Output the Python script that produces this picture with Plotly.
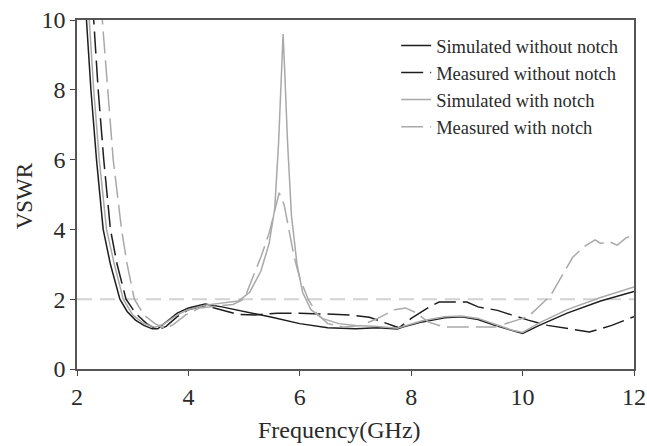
import plotly.graph_objects as go

# ---- data ----
f_sim_wo = [2.15, 2.25, 2.35, 2.47, 2.6, 2.77, 2.9, 3.05, 3.2, 3.35, 3.45, 3.6, 3.8, 4.0, 4.3, 4.6,
            5.0, 5.5, 6.0, 6.5, 7.0, 7.4, 7.75, 7.85, 8.2, 8.6, 8.9, 9.2, 9.5, 9.8, 10.0, 10.3,
            10.8, 11.4, 12.0]
v_sim_wo = [10.5, 8.0, 6.0, 4.0, 3.0, 2.0, 1.65, 1.4, 1.25, 1.15, 1.15, 1.35, 1.6, 1.75, 1.86, 1.78,
            1.65, 1.48, 1.3, 1.18, 1.15, 1.18, 1.15, 1.2, 1.35, 1.47, 1.5, 1.42, 1.25, 1.1, 1.02, 1.25,
            1.6, 1.95, 2.22]

f_meas_wo = [2.28, 2.38, 2.48, 2.6, 2.72, 2.88, 3.05, 3.25, 3.45, 3.6, 3.8, 4.0, 4.3, 4.6, 4.9,
             5.2, 5.6, 6.0, 6.5, 6.9, 7.25, 7.55, 7.78, 8.0, 8.35, 8.5, 9.0, 9.2, 9.55, 9.8, 10.1,
             10.45, 10.95, 11.2, 11.6, 12.0]
v_meas_wo = [10.5, 8.0, 6.0, 4.0, 3.0, 2.0, 1.6, 1.3, 1.12, 1.22, 1.5, 1.7, 1.82, 1.7, 1.56,
             1.55, 1.6, 1.6, 1.58, 1.55, 1.48, 1.3, 1.18, 1.45, 1.8, 1.92, 1.92, 1.78, 1.68, 1.55, 1.4,
             1.25, 1.12, 1.06, 1.25, 1.5]

f_sim_w = [2.2, 2.3, 2.4, 2.53, 2.67, 2.83, 3.0, 3.2, 3.4, 3.55, 3.8, 4.0, 4.3, 4.6, 4.9, 5.1,
           5.3, 5.45, 5.55, 5.62, 5.67, 5.70, 5.73, 5.78, 5.85, 5.95, 6.05, 6.2, 6.4, 6.7, 7.0,
           7.4, 7.75, 7.85, 8.2, 8.6, 8.9, 9.2, 9.5, 9.8, 10.0, 10.3, 10.8, 11.4, 12.0]
v_sim_w = [10.5, 8.0, 6.0, 4.0, 3.0, 2.0, 1.55, 1.3, 1.2, 1.28, 1.55, 1.7, 1.83, 1.88, 1.95, 2.2,
           2.8, 3.6, 4.6, 6.5, 8.5, 9.6, 8.5, 6.5, 4.4, 3.0, 2.2, 1.7, 1.45, 1.3, 1.25,
           1.22, 1.17, 1.22, 1.38, 1.5, 1.52, 1.45, 1.28, 1.12, 1.05, 1.32, 1.7, 2.05, 2.35]

f_meas_w = [2.43, 2.55, 2.65, 2.8, 2.9, 3.03, 3.2, 3.4, 3.6, 3.75, 3.95, 4.2, 4.5, 4.8, 5.0,
            5.15, 5.3, 5.45, 5.55, 5.63, 5.72, 5.8, 5.9, 6.0, 6.15, 6.3, 6.5, 6.8, 7.1, 7.4, 7.7,
            7.9, 8.1, 8.3, 8.6, 9.0, 9.5, 9.9, 10.1, 10.5, 10.9, 11.1, 11.3, 11.4, 11.55, 11.7,
            11.85, 12.0]
v_meas_w = [10.5, 8.0, 6.0, 4.0, 3.0, 2.0, 1.55, 1.3, 1.15, 1.3, 1.55, 1.75, 1.8, 1.85, 2.0,
            2.6, 3.2, 3.9, 4.5, 5.05, 4.7, 4.0, 3.2, 2.6, 2.0, 1.6, 1.3, 1.2, 1.25, 1.45, 1.7,
            1.75, 1.6, 1.35, 1.2, 1.2, 1.2, 1.4, 1.5, 2.1, 3.2, 3.5, 3.7, 3.6, 3.65, 3.55,
            3.75, 3.85]

threshold_x = [2, 12]
threshold_y = [2, 2]

x_ticks = [2, 4, 6, 8, 10, 12]
y_ticks = [0, 2, 4, 6, 8, 10]

BLACK = "#1e1e1e"
GRAY = "#a9a9a9"
SERIF = "Liberation Serif, Times New Roman, serif"

fig = go.Figure()
fig.add_trace(go.Scatter(x=threshold_x, y=threshold_y, mode="lines", showlegend=False,
                         line=dict(color="#d2d2d2", width=2, dash="15px,8px"), hoverinfo="skip"))
fig.add_trace(go.Scatter(x=f_sim_wo, y=v_sim_wo, mode="lines", name="Simulated without notch",
                         line=dict(color=BLACK, width=1.5)))
fig.add_trace(go.Scatter(x=f_meas_wo, y=v_meas_wo, mode="lines", name="Measured without notch",
                         line=dict(color=BLACK, width=1.5, dash="22px,7px")))
fig.add_trace(go.Scatter(x=f_sim_w, y=v_sim_w, mode="lines", name="Simulated with notch",
                         line=dict(color=GRAY, width=1.5)))
fig.add_trace(go.Scatter(x=f_meas_w, y=v_meas_w, mode="lines", name="Measured with notch",
                         line=dict(color=GRAY, width=1.5, dash="22px,7px")))

fig.update_layout(
    width=647, height=446,
    margin=dict(l=77, r=13, t=20, b=77),
    paper_bgcolor="white", plot_bgcolor="white",
    font=dict(family=SERIF, color="#2a2a2a"),
    showlegend=True,
    legend=dict(x=0.573, y=0.98, xanchor="left", yanchor="top", bgcolor="rgba(0,0,0,0)",
                font=dict(family=SERIF, size=18.5, color="#2a2a2a"), tracegroupgap=0),
    xaxis=dict(range=[2, 12], tickvals=x_ticks, ticks="outside", ticklen=5, tickcolor="#444",
               showline=True, linecolor="#555", linewidth=1.5, mirror=True, showgrid=False,
               zeroline=False, automargin=False,
               tickfont=dict(size=24, family=SERIF, color="#2a2a2a")),
    yaxis=dict(range=[0, 10], tickvals=y_ticks, ticks="outside", ticklen=5, tickcolor="#444",
               showline=True, linecolor="#555", linewidth=1.5, mirror=True, showgrid=False,
               zeroline=False, automargin=False,
               tickfont=dict(size=24, family=SERIF, color="#2a2a2a")),
    annotations=[
        dict(text="Frequency(GHz)", x=0.472, y=-0.174, xref="paper", yref="paper",
             xanchor="center", yanchor="middle", showarrow=False,
             font=dict(size=24, family=SERIF, color="#2a2a2a")),
        dict(text="VSWR", x=-0.095, y=0.495, xref="paper", yref="paper", textangle=-90,
             xanchor="center", yanchor="middle", showarrow=False,
             font=dict(size=23, family=SERIF, color="#2a2a2a")),
    ],
)

fig.write_html("out.html", config={"displayModeBar": False},
               post_script="document.body.style.margin='0px';document.body.style.overflow='hidden';")
